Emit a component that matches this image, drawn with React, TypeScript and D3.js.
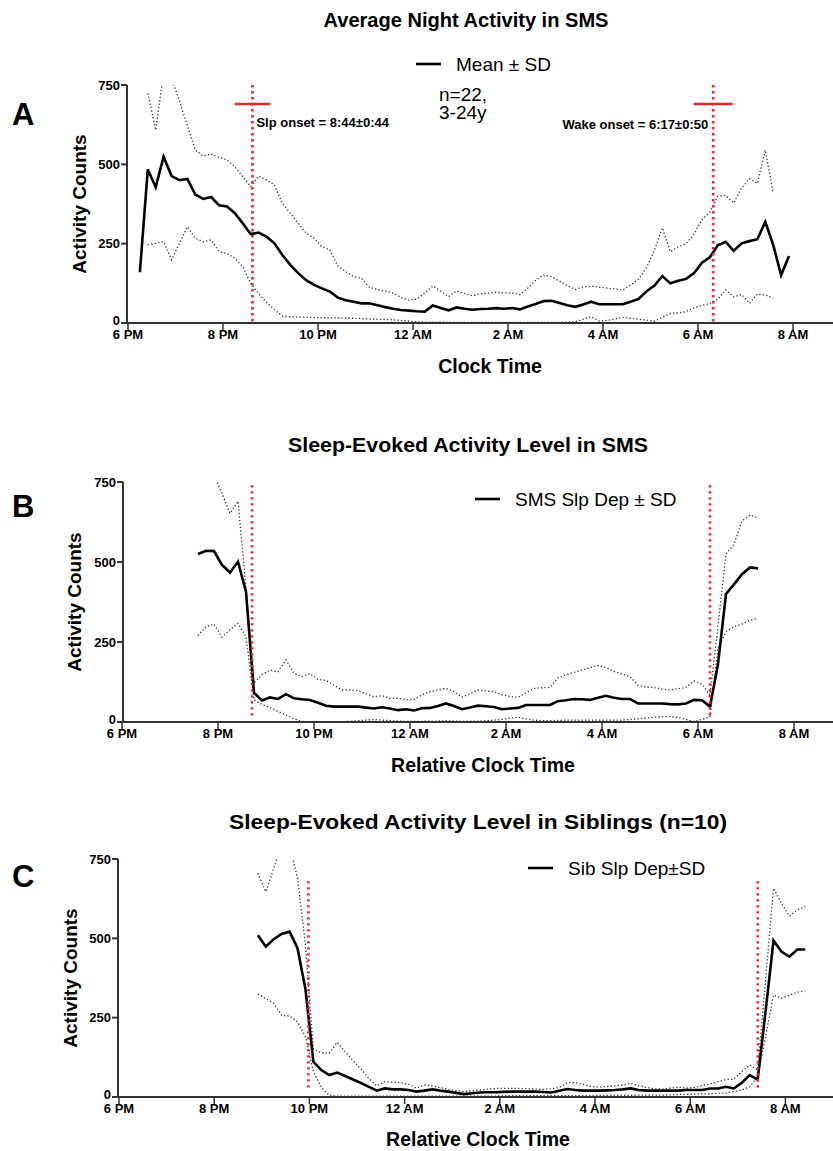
import React from "react";
import * as d3 from "d3";

// ---------- shared axis definitions (hours after 6 PM) ----------
const STEP = 1 / 6; // 10-minute epochs
const TICK_HOURS = [0, 2, 4, 6, 8, 10, 12, 14];
const TICK_LABELS = ["6 PM", "8 PM", "10 PM", "12 AM", "2 AM", "4 AM", "6 AM", "8 AM"];
const Y_TICKS = [0, 250, 500, 750];

// ---------- Panel A: Average Night Activity in SMS ----------
const A_MEAN_START = 0.25;
const A_MEAN = [160, 484, 428, 524, 463, 450, 454, 405, 391, 397, 371, 367, 346, 314, 280, 285, 272, 251, 214, 183, 157, 135, 120, 109, 99, 80, 72, 67, 62, 62, 56, 50, 45, 41, 39, 37, 36, 55, 47, 40, 49, 45, 42, 44, 45, 47, 45, 47, 43, 52, 60, 69, 70, 63, 56, 51, 58, 67, 59, 59, 59, 59, 67, 76, 100, 118, 148, 125, 133, 139, 157, 190, 207, 245, 256, 227, 251, 258, 264, 319, 246, 151, 211];
const A_SD_START = 0.4167;
const A_UPPER = [724, 608, 790, 770, 700, 622, 545, 526, 532, 522, 514, 492, 461, 430, 463, 451, 435, 377, 346, 314, 283, 267, 240, 230, 180, 162, 146, 141, 112, 106, 101, 94, 80, 72, 75, 95, 117, 100, 83, 101, 93, 86, 92, 94, 97, 95, 94, 89, 110, 135, 151, 146, 132, 118, 106, 114, 116, 113, 110, 107, 104, 120, 138, 175, 230, 300, 225, 240, 250, 280, 325, 350, 400, 402, 378, 425, 455, 440, 545, 410];
const A_LOWER = [246, 251, 256, 199, 251, 303, 267, 256, 262, 225, 219, 204, 177, 125, 92, 65, 42, 22, 20, 19, 18, 17, 17, 16, 16, 15, 15, 14, 13, 12, 11, 10, 8, 6, 4, 3, 3, 3, 2, 2, 2, 2, 2, 2, 2, 2, 2, 2, 2, 2, 2, 2, 2, 3, 4, 12, 20, 6, 8, 12, 18, 15, 12, 9, 6, 18, 30, 32, 36, 48, 55, 62, 75, 105, 82, 90, 62, 92, 88, 78];
const A_MARKERS = [2.62, 12.32];
const A_MARKER_BARS = [0.37, 0.41];
const A_MARKER_LABELS = ["Slp onset = 8:44±0:44", "Wake onset = 6:17±0:50"];

// ---------- Panel B: Sleep-Evoked Activity Level in SMS ----------
const B_START = 1.583;
const B_MEAN = [525, 535, 534, 491, 467, 501, 407, 92, 67, 77, 72, 87, 74, 71, 69, 60, 51, 48, 48, 48, 48, 45, 42, 46, 42, 37, 40, 36, 43, 44, 50, 58, 50, 40, 45, 51, 49, 47, 40, 42, 44, 53, 53, 53, 53, 65, 68, 72, 71, 69, 76, 82, 76, 72, 72, 58, 58, 58, 58, 56, 55, 58, 69, 68, 48, 180, 400, 430, 462, 483, 480];
const B_UPPER = [900, 850, 770, 715, 652, 690, 420, 122, 148, 162, 157, 194, 152, 142, 152, 133, 130, 115, 100, 100, 98, 88, 79, 82, 74, 74, 70, 70, 85, 95, 100, 105, 95, 78, 88, 100, 97, 95, 85, 80, 77, 92, 105, 107, 108, 138, 148, 155, 162, 170, 177, 170, 158, 150, 142, 115, 109, 108, 103, 100, 104, 108, 128, 118, 84, 300, 525, 555, 628, 647, 638];
const B_LOWER = [270, 298, 306, 265, 288, 308, 267, 69, 55, 45, 33, 22, 10, 2, 1, 1, 1, 1, 1, 2, 4, 6, 8, 6, 4, 3, 2, 2, 2, 3, 3, 4, 3, 2, 3, 3, 4, 6, 8, 12, 15, 10, 6, 4, 4, 5, 6, 6, 6, 6, 6, 6, 6, 6, 8, 10, 12, 15, 17, 17, 14, 8, 2, 8, 17, 230, 282, 298, 306, 318, 324];
const B_MARKERS = [2.71, 12.25];

// ---------- Panel C: Sleep-Evoked Activity Level in Siblings ----------
const C_START = 2.917;
const C_MEAN = [510, 474, 497, 514, 521, 469, 340, 111, 85, 69, 77, 66, 55, 44, 32, 20, 27, 24, 24, 22, 17, 20, 24, 20, 17, 13, 9, 12, 14, 15, 15, 16, 17, 17, 17, 17, 16, 14, 20, 25, 22, 20, 20, 20, 21, 22, 24, 27, 22, 20, 20, 20, 20, 20, 22, 22, 22, 27, 27, 32, 27, 45, 69, 55, 270, 493, 458, 442, 465, 465];
const C_UPPER = [705, 647, 720, 800, 790, 690, 480, 150, 140, 138, 172, 143, 115, 88, 58, 35, 48, 47, 45, 40, 28, 38, 35, 30, 24, 20, 17, 20, 22, 25, 27, 27, 27, 27, 26, 25, 24, 26, 30, 45, 45, 40, 33, 31, 33, 35, 38, 43, 35, 30, 26, 25, 28, 31, 28, 30, 36, 41, 48, 55, 56, 80, 101, 85, 370, 658, 610, 570, 590, 600];
const C_LOWER = [324, 310, 295, 257, 255, 237, 190, 80, 30, 5, 3, 3, 3, 3, 3, 3, 3, 3, 3, 3, 3, 3, 3, 3, 3, 3, 3, 3, 3, 3, 3, 4, 4, 4, 4, 4, 4, 4, 4, 4, 4, 4, 4, 5, 5, 5, 5, 5, 6, 6, 6, 6, 7, 8, 8, 9, 10, 10, 12, 12, 18, 22, 32, 64, 190, 321, 311, 321, 330, 335];
const C_MARKERS = [3.98, 13.42];

const FONT = "Arial, 'Liberation Sans', Helvetica, sans-serif";
const RED = "#ee2229";
const W = 833;

type PanelProps = {
  id: string;
  letter: string;
  letterY: number;
  title: string;
  titleX: number;
  titleY: number;
  titleSize: number;
  titleLen: number;
  xTitle: string;
  xTitleX: number;
  xTitleY: number;
  yTitleX: number;
  x6pm: number;
  x8am: number;
  yTop: number;
  yBottom: number;
  axisLeft: number;
  meanStart: number;
  mean: number[];
  sdStart: number;
  upper: number[];
  lower: number[];
  markers: number[];
  markerTop: number;
  markerBottom: number;
  legend: string;
  legendX: number;
  legendY: number;
  children?: (x: d3.ScaleLinear<number, number>, y: d3.ScaleLinear<number, number>) => React.ReactNode;
};

function Panel(p: PanelProps) {
  const x = d3.scaleLinear().domain([0, 14]).range([p.x6pm, p.x8am]);
  const y = d3.scaleLinear().domain([0, 750]).range([p.yBottom, p.yTop]);
  const mk = (start: number) =>
    d3
      .line<number>()
      .x((_, i) => x(start + i * STEP))
      .y((v) => y(v));
  const clipId = `clip-${p.id}`;
  return (
    <g>
      <defs>
        <clipPath id={clipId}>
          <rect x={p.axisLeft} y={p.yTop} width={W - p.axisLeft} height={p.yBottom - p.yTop + 2} />
        </clipPath>
      </defs>
      {/* titles */}
      <text
        x={p.titleX}
        y={p.titleY}
        textAnchor="middle"
        fontFamily={FONT}
        fontWeight="bold"
        fontSize={p.titleSize}
        textLength={p.titleLen}
        lengthAdjust="spacingAndGlyphs"
      >
        {p.title}
      </text>
      <text x={12} y={p.letterY} fontFamily={FONT} fontWeight="bold" fontSize={31}>
        {p.letter}
      </text>
      <text
        transform={`translate(${p.yTitleX},${(p.yTop + p.yBottom) / 2}) rotate(-90)`}
        textAnchor="middle"
        fontFamily={FONT}
        fontWeight="bold"
        fontSize={19}
      >
        Activity Counts
      </text>
      <text x={p.xTitleX} y={p.xTitleY} textAnchor="middle" fontFamily={FONT} fontWeight="bold" fontSize={19.5}>
        {p.xTitle}
      </text>

      {/* data */}
      <g clipPath={`url(#${clipId})`}>
        <path d={mk(p.sdStart)(p.upper) || ""} fill="none" stroke="#333" strokeWidth={1.3} strokeDasharray="1.3 2.2" />
        <path d={mk(p.sdStart)(p.lower) || ""} fill="none" stroke="#333" strokeWidth={1.3} strokeDasharray="1.3 2.2" />
        <path d={mk(p.meanStart)(p.mean) || ""} fill="none" stroke="#000" strokeWidth={2.6} strokeLinejoin="miter" />
      </g>

      {/* onset / wake markers */}
      {p.markers.map((m, i) => (
        <line
          key={i}
          x1={x(m)}
          x2={x(m)}
          y1={y(p.markerTop)}
          y2={y(p.markerBottom)}
          stroke={RED}
          strokeWidth={2.6}
          strokeDasharray="2.4 3.6"
        />
      ))}

      {/* axes */}
      <line x1={p.axisLeft} x2={p.axisLeft} y1={p.yTop} y2={p.yBottom} stroke="#333" strokeWidth={2} />
      <line x1={p.axisLeft} x2={W} y1={p.yBottom} y2={p.yBottom} stroke="#333" strokeWidth={2} />
      {Y_TICKS.map((t) => (
        <g key={t}>
          <line x1={p.axisLeft - 6} x2={p.axisLeft} y1={y(t)} y2={y(t)} stroke="#333" strokeWidth={2} />
          <text
            x={p.axisLeft - 7}
            y={y(t) + (t === 0 ? 1.5 : 4.5)}
            textAnchor="end"
            fontFamily={FONT}
            fontWeight="bold"
            fontSize={13}
          >
            {t}
          </text>
        </g>
      ))}
      {TICK_HOURS.map((h, i) => (
        <g key={h}>
          <line x1={x(h)} x2={x(h)} y1={p.yBottom} y2={p.yBottom + 7} stroke="#333" strokeWidth={1.5} />
          <text x={x(h)} y={p.yBottom + 15.5} textAnchor="middle" fontFamily={FONT} fontWeight="bold" fontSize={13}>
            {TICK_LABELS[i]}
          </text>
        </g>
      ))}

      {/* legend */}
      <line x1={p.legendX} x2={p.legendX + 25} y1={p.legendY} y2={p.legendY} stroke="#000" strokeWidth={2.6} />
      <text x={p.legendX + 40} y={p.legendY + 7} fontFamily={FONT} fontSize={19}>
        {p.legend}
      </text>
      {p.children ? p.children(x, y) : null}
    </g>
  );
}

export default function App() {
  return (
    <svg
      width={W}
      height={1151}
      style={{ position: "absolute", left: 0, top: 0, background: "#fff" }}
      xmlns="http://www.w3.org/2000/svg"
    >
      <rect x={0} y={0} width={W} height={1151} fill="#fff" />
      <Panel
        id="a"
        letter="A"
        letterY={125}
        title="Average Night Activity in SMS"
        titleX={466}
        titleY={27}
        titleSize={20}
        titleLen={285}
        xTitle="Clock Time"
        xTitleX={490}
        xTitleY={373}
        yTitleX={86}
        x6pm={128}
        x8am={793}
        yTop={85}
        yBottom={323}
        axisLeft={127}
        meanStart={A_MEAN_START}
        mean={A_MEAN}
        sdStart={A_SD_START}
        upper={A_UPPER}
        lower={A_LOWER}
        markers={A_MARKERS}
        markerTop={750}
        markerBottom={0}
        legend="Mean ± SD"
        legendX={416}
        legendY={64}
      >
        {(x, y) => (
          <g>
            {A_MARKERS.map((m, i) => (
              <line
                key={i}
                x1={x(m - A_MARKER_BARS[i])}
                x2={x(m + A_MARKER_BARS[i])}
                y1={y(690)}
                y2={y(690)}
                stroke={RED}
                strokeWidth={2.6}
              />
            ))}
            <text x={x(A_MARKERS[0]) + 4} y={127} fontFamily={FONT} fontWeight="bold" fontSize={13}>
              {A_MARKER_LABELS[0]}
            </text>
            <text x={x(A_MARKERS[1]) - 5} y={129} textAnchor="end" fontFamily={FONT} fontWeight="bold" fontSize={13}>
              {A_MARKER_LABELS[1]}
            </text>
            <text x={439} y={101} fontFamily={FONT} fontSize={19}>
              n=22,
            </text>
            <text x={439} y={119} fontFamily={FONT} fontSize={19}>
              3-24y
            </text>
          </g>
        )}
      </Panel>
      <Panel
        id="b"
        letter="B"
        letterY={517}
        title="Sleep-Evoked Activity Level in SMS"
        titleX={468}
        titleY={452}
        titleSize={21}
        titleLen={360}
        xTitle="Relative Clock Time"
        xTitleX={483}
        xTitleY={772}
        yTitleX={81}
        x6pm={122}
        x8am={794}
        yTop={482}
        yBottom={722}
        axisLeft={123}
        meanStart={B_START}
        mean={B_MEAN}
        sdStart={B_START}
        upper={B_UPPER}
        lower={B_LOWER}
        markers={B_MARKERS}
        markerTop={740}
        markerBottom={15}
        legend="SMS Slp Dep ± SD"
        legendX={475}
        legendY={499}
      />
      <Panel
        id="c"
        letter="C"
        letterY={887}
        title="Sleep-Evoked Activity Level in Siblings (n=10)"
        titleX={478}
        titleY={829}
        titleSize={21}
        titleLen={498}
        xTitle="Relative Clock Time"
        xTitleX={478}
        xTitleY={1146}
        yTitleX={77}
        x6pm={119}
        x8am={785.4}
        yTop={859}
        yBottom={1097}
        axisLeft={118}
        meanStart={C_START}
        mean={C_MEAN}
        sdStart={C_START}
        upper={C_UPPER}
        lower={C_LOWER}
        markers={C_MARKERS}
        markerTop={680}
        markerBottom={20}
        legend="Sib Slp Dep±SD"
        legendX={528}
        legendY={868}
      />
    </svg>
  );
}
